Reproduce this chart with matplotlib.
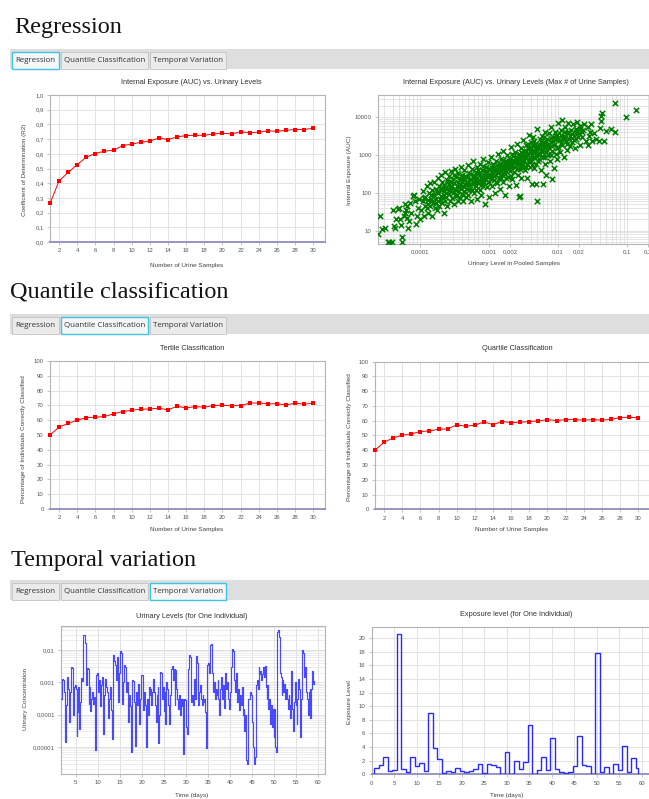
import numpy as np
import matplotlib
matplotlib.use("Agg")
import matplotlib.pyplot as plt
from matplotlib.patches import Rectangle
from matplotlib.ticker import FixedLocator, FuncFormatter, LogLocator, NullFormatter


W, H = 649, 799

SAMPLES = list(range(1, 31))

R2_VALUES = [
    0.262, 0.416, 0.473, 0.527, 0.577, 0.602, 0.618, 0.624, 0.656, 0.665,
    0.679, 0.686, 0.708, 0.697, 0.715, 0.724, 0.726, 0.726, 0.735, 0.740,
    0.735, 0.749, 0.744, 0.747, 0.756, 0.753, 0.760, 0.765, 0.765, 0.774,
]

TERTILE_PCT = [
    50.1, 55.3, 57.8, 60.0, 61.8, 62.0, 62.5, 64.3, 65.8, 66.7,
    67.4, 67.6, 68.1, 67.0, 69.4, 68.3, 69.2, 68.8, 69.9, 70.1,
    69.7, 69.9, 71.5, 71.7, 71.0, 71.2, 70.3, 71.5, 70.8, 71.5,
]

QUARTILE_PCT = [
    40.0, 45.4, 48.3, 50.1, 51.0, 52.6, 53.0, 54.2, 54.4, 57.1,
    56.2, 56.9, 59.1, 57.3, 59.4, 58.7, 58.9, 59.4, 59.8, 60.7,
    60.0, 60.7, 60.7, 60.3, 60.7, 60.3, 60.9, 62.1, 62.3, 61.9,
]

# (urinary level in pooled samples, internal exposure AUC)
SCATTER_POINTS = [
    (2.5e-5, 8), (2.6e-5, 25), (2.8e-5, 11), (3.1e-5, 12), (3.4e-5, 5),
    (3.6e-5, 5), (3.9e-5, 5), (4.2e-5, 13), (4.4e-5, 12), (4.8e-5, 38),
    (5.0e-5, 40), (5.5e-5, 7), (5.5e-5, 5), (4.5e-5, 20), (5.2e-5, 20),
    (4.0e-5, 35), (6.0e-5, 30), (6.5e-5, 22), (6.5e-5, 45), (7.0e-5, 18),
    (7.5e-5, 30), (7.8e-5, 85), (8.2e-5, 90), (8.5e-5, 60), (9.0e-5, 25),
    (9.5e-5, 40), (6.0e-5, 50), (7.2e-5, 55), (8.8e-5, 15), (5.8e-5, 25),
    (6.8e-5, 12), (9.8e-5, 70), (1.0e-4, 20), (5.3e-5, 14), (6.2e-5, 35),
    (1.05e-4, 35), (1.1e-4, 60), (1.1e-4, 110), (1.15e-4, 25), (1.2e-4, 45),
    (1.2e-4, 80), (1.25e-4, 150), (1.3e-4, 30), (1.3e-4, 65), (1.35e-4, 100),
    (1.4e-4, 45), (1.4e-4, 180), (1.45e-4, 70), (1.5e-4, 25), (1.5e-4, 120),
    (1.55e-4, 55), (1.6e-4, 90), (1.6e-4, 200), (1.65e-4, 40), (1.7e-4, 130),
    (1.7e-4, 70), (1.75e-4, 35), (1.8e-4, 100), (1.8e-4, 250), (1.85e-4, 60),
    (1.9e-4, 150), (1.9e-4, 45), (2.0e-4, 85), (2.0e-4, 300), (2.05e-4, 120),
    (2.1e-4, 55), (2.1e-4, 200), (2.15e-4, 75), (2.2e-4, 30), (2.2e-4, 160),
    (2.25e-4, 110), (2.3e-4, 60), (2.3e-4, 350), (2.35e-4, 140), (2.4e-4, 80),
    (2.45e-4, 220), (2.5e-4, 45), (2.5e-4, 130), (2.6e-4, 95), (2.6e-4, 280),
    (2.65e-4, 170), (2.7e-4, 60), (2.75e-4, 120), (2.8e-4, 380), (2.85e-4, 200),
    (2.9e-4, 75), (2.9e-4, 150), (3.0e-4, 100), (3.0e-4, 240), (3.1e-4, 50),
    (3.1e-4, 180), (3.2e-4, 130), (3.2e-4, 420), (3.3e-4, 85), (3.35e-4, 260),
    (3.4e-4, 150), (3.5e-4, 60), (3.5e-4, 200), (3.6e-4, 110), (3.6e-4, 330),
    (3.7e-4, 170), (3.75e-4, 75), (3.8e-4, 240), (3.9e-4, 130), (3.9e-4, 500),
    (4.0e-4, 95), (4.0e-4, 190), (4.1e-4, 300), (4.2e-4, 60), (4.2e-4, 150),
    (4.3e-4, 220), (4.4e-4, 110), (4.4e-4, 400), (4.5e-4, 170), (4.6e-4, 80),
    (4.7e-4, 260), (4.8e-4, 130), (4.9e-4, 550), (5.0e-4, 200), (5.0e-4, 90),
    (5.2e-4, 330), (5.3e-4, 160), (5.4e-4, 60), (5.5e-4, 240), (5.6e-4, 420),
    (5.7e-4, 120), (5.8e-4, 190), (5.9e-4, 700), (6.0e-4, 280), (6.1e-4, 100),
    (6.2e-4, 220), (6.4e-4, 350), (6.5e-4, 150), (6.6e-4, 70), (6.7e-4, 480),
    (6.8e-4, 250), (7.0e-4, 180), (7.1e-4, 330), (7.3e-4, 120), (7.4e-4, 600),
    (7.6e-4, 260), (7.7e-4, 90), (7.9e-4, 400), (8.0e-4, 200), (8.2e-4, 150),
    (8.3e-4, 800), (8.5e-4, 300), (8.7e-4, 50), (8.8e-4, 230), (9.0e-4, 500),
    (9.2e-4, 140), (9.4e-4, 350), (9.6e-4, 270), (9.8e-4, 650), (1.0e-3, 190),
    (1.0e-3, 80), (1.03e-3, 420), (1.05e-3, 260), (1.08e-3, 900), (1.1e-3, 150),
    (1.12e-3, 330), (1.15e-3, 550), (1.18e-3, 220), (1.2e-3, 100), (1.22e-3, 400),
    (1.25e-3, 700), (1.28e-3, 290), (1.3e-3, 180), (1.33e-3, 480), (1.36e-3, 1100),
    (1.4e-3, 350), (1.42e-3, 130), (1.45e-3, 600), (1.48e-3, 250), (1.5e-3, 800),
    (1.55e-3, 420), (1.6e-3, 200), (1.62e-3, 1300), (1.65e-3, 550), (1.7e-3, 320),
    (1.72e-3, 90), (1.75e-3, 700), (1.8e-3, 450), (1.85e-3, 1000), (1.9e-3, 260),
    (1.92e-3, 600), (1.95e-3, 150), (2.0e-3, 800), (2.0e-3, 380), (2.05e-3, 1600),
    (2.1e-3, 500), (2.15e-3, 230), (2.2e-3, 950), (2.25e-3, 650), (2.3e-3, 350),
    (2.35e-3, 1200), (2.4e-3, 480), (2.45e-3, 160), (2.5e-3, 850), (2.55e-3, 2000),
    (2.6e-3, 600), (2.65e-3, 300), (2.7e-3, 1100), (2.75e-3, 80), (2.8e-3, 750),
    (2.85e-3, 420), (2.9e-3, 1500), (2.95e-3, 250), (3.0e-3, 950), (3.05e-3, 550),
    (3.1e-3, 2500), (3.15e-3, 700), (3.2e-3, 1300), (3.3e-3, 400), (3.35e-3, 900),
    (3.4e-3, 1800), (3.5e-3, 600), (3.55e-3, 1100), (3.6e-3, 250), (3.7e-3, 1500),
    (3.75e-3, 800), (3.8e-3, 3500), (3.9e-3, 500), (3.95e-3, 1200), (4.0e-3, 2200),
    (4.1e-3, 700), (4.15e-3, 170), (4.2e-3, 1000), (4.3e-3, 1700), (4.4e-3, 3000),
    (4.45e-3, 450), (4.5e-3, 1300), (4.6e-3, 850), (4.7e-3, 2000), (4.8e-3, 1000),
    (5.0e-3, 4800), (5.1e-3, 700), (5.2e-3, 1500), (5.4e-3, 2600), (5.5e-3, 1100),
    (5.6e-3, 400), (5.8e-3, 1800), (5.9e-3, 3300), (6.0e-3, 900), (6.1e-3, 1400),
    (6.3e-3, 2200), (6.4e-3, 600), (6.5e-3, 4000), (6.6e-3, 1200), (6.7e-3, 300),
    (6.8e-3, 1700), (7.0e-3, 2600), (7.1e-3, 1000), (7.3e-3, 3800), (7.5e-3, 1500),
    (7.7e-3, 700), (7.9e-3, 2200), (8.0e-3, 5500), (8.2e-3, 1300), (8.4e-3, 3000),
    (8.6e-3, 450), (8.8e-3, 1900), (9.0e-3, 4200), (9.2e-3, 1100), (9.4e-3, 2700),
    (9.6e-3, 800), (9.8e-3, 3500), (1.0e-2, 1600), (1.0e-2, 7000), (1.05e-2, 2500),
    (1.08e-2, 1200), (1.1e-2, 4500), (1.13e-2, 8500), (1.15e-2, 1800), (1.2e-2, 3200),
    (1.22e-2, 900), (1.25e-2, 5500), (1.3e-2, 2300), (1.33e-2, 1400), (1.38e-2, 3800),
    (1.4e-2, 7000), (1.45e-2, 2700), (1.5e-2, 1700), (1.55e-2, 4500), (1.6e-2, 2200),
    (1.65e-2, 6500), (1.7e-2, 3300), (1.75e-2, 1500), (1.8e-2, 5000), (1.85e-2, 2700),
    (1.9e-2, 7500), (2.0e-2, 3800), (2.05e-2, 1800), (2.1e-2, 5800), (2.2e-2, 3000),
    (2.3e-2, 4500), (2.4e-2, 6800), (2.5e-2, 2400),
    (2.4e-4, 100), (2.7e-4, 140), (3.3e-4, 120), (3.8e-4, 160), (4.3e-4, 140),
    (4.8e-4, 190), (5.3e-4, 230), (5.7e-4, 170), (6.3e-4, 260), (6.9e-4, 210),
    (7.5e-4, 300), (8.1e-4, 250), (8.6e-4, 380), (9.3e-4, 280), (1.02e-3, 320),
    (1.1e-3, 450), (1.17e-3, 370), (1.27e-3, 420), (1.35e-3, 330), (1.44e-3, 480),
    (1.52e-3, 560), (1.63e-3, 420), (1.72e-3, 620), (1.83e-3, 520), (1.95e-3, 700),
    (2.08e-3, 600), (2.2e-3, 750), (2.35e-3, 650), (2.5e-3, 900), (2.65e-3, 800),
    (2.8e-3, 1000), (3.0e-3, 700), (3.2e-3, 950), (3.45e-3, 1300), (3.65e-3, 1000),
    (3.85e-3, 1500), (4.1e-3, 1200), (4.35e-3, 900), (4.6e-3, 1600), (4.9e-3, 1300),
    (5.3e-3, 1900), (5.7e-3, 1400), (6.2e-3, 1700), (6.6e-3, 2300), (7.2e-3, 1800),
    (7.8e-3, 2800), (8.5e-3, 2300), (9.3e-3, 3200), (1.01e-2, 2700), (1.12e-2, 3500),
    (1.25e-2, 2900), (1.4e-2, 4200), (1.6e-2, 3600), (1.8e-2, 4200), (2.1e-2, 4800),
    (1.5e-4, 60), (1.75e-4, 110), (2.0e-4, 130), (1.3e-4, 50), (1.15e-4, 75),
    (2.2e-4, 90), (2.55e-4, 190), (2.85e-4, 110), (3.15e-4, 300), (3.45e-4, 90),
    (3.65e-4, 140), (3.95e-4, 230), (4.25e-4, 90), (4.55e-4, 280), (4.85e-4, 160),
    (5.15e-4, 120), (5.45e-4, 320), (5.85e-4, 260), (6.15e-4, 180), (6.45e-4, 120),
    (6.85e-4, 400), (7.25e-4, 220), (7.65e-4, 160), (8.05e-4, 520), (8.45e-4, 200),
    (8.9e-4, 330), (9.5e-4, 190), (9.9e-4, 420), (1.06e-3, 230), (1.13e-3, 600),
    (1.19e-3, 280), (1.26e-3, 190), (1.32e-3, 560), (1.39e-3, 250), (1.46e-3, 380),
    (1.54e-3, 300), (1.6e-3, 750), (1.68e-3, 380), (1.77e-3, 250), (1.86e-3, 580),
    (1.97e-3, 420), (2.06e-3, 280), (2.13e-3, 1100), (2.28e-3, 500), (2.42e-3, 800),
    (2.57e-3, 420), (2.72e-3, 600), (2.88e-3, 1200), (3.03e-3, 450), (3.25e-3, 700),
    (3.42e-3, 500), (3.62e-3, 2000), (3.82e-3, 700), (4.05e-3, 1500), (4.25e-3, 550),
    (4.55e-3, 2400), (4.75e-3, 600), (5.05e-3, 1100), (5.35e-3, 800), (5.65e-3, 2300),
    (5.95e-3, 1200), (6.25e-3, 3000), (6.55e-3, 900), (6.95e-3, 1400), (7.4e-3, 2000),
    (7.95e-3, 1000), (8.3e-3, 1700), (8.9e-3, 2600), (9.5e-3, 1500), (1.03e-2, 3900),
    (1.1e-2, 2100), (1.18e-2, 2600), (1.28e-2, 4000), (1.36e-2, 2000), (1.48e-2, 3300),
    (1.58e-2, 2800), (1.72e-2, 2500), (1.95e-2, 3000), (2.25e-2, 4000), (1.25e-4, 40),
    (1.45e-4, 90), (1.7e-4, 55), (1.95e-4, 70), (2.15e-4, 140),
    (2.7e-2, 5500), (2.8e-2, 3200), (2.9e-2, 4200), (3.1e-2, 2300), (3.3e-2, 3800),
    (3.6e-2, 2600), (3.9e-2, 2350), (4.2e-2, 8000), (4.2e-2, 11000), (4.3e-2, 13000),
    (4.1e-2, 5200), (4.7e-2, 2350), (5.0e-2, 4300), (5.9e-2, 4900), (6.6e-2, 4100),
    (6.6e-2, 24000), (9.5e-2, 10300), (1.34e-1, 15600), (2.7e-2, 1800), (3.0e-2, 6500),
    (4.9e-3, 62), (4.8e-3, 170), (6.0e-3, 170), (2.8e-3, 82), (8.1e-3, 240),
]

# (time in days, urinary concentration) for one individual
URINE_SERIES = [
    (1.7, 3.0e-4), (1.8, 9e-4), (1.95, 1.3e-3), (2.15, 1.2e-3), (2.35, 5e-4),
    (2.5, 2.5e-5), (2.65, 1.4e-5), (2.8, 2e-4), (2.95, 1.5e-3), (3.15, 8e-4),
    (3.35, 6e-4), (3.5, 6e-5), (3.65, 5e-4), (3.85, 1.0e-3), (4.0, 2.9e-3),
    (4.25, 2.7e-3), (4.45, 1.0e-4), (4.6, 7e-4), (4.85, 8e-4), (5.05, 6e-4),
    (5.25, 2.2e-5), (5.4, 1.2e-4), (5.6, 7e-4), (5.8, 3.5e-5), (6.0, 2.5e-4),
    (6.25, 1.4e-3), (6.5, 1.1e-3), (6.7, 3.0e-2), (6.95, 2.8e-2), (7.15, 1.6e-2),
    (7.35, 8e-4), (7.55, 2.8e-3), (7.8, 2.6e-3), (7.95, 2.2e-4), (8.1, 7e-4),
    (8.3, 1.3e-4), (8.5, 3e-4), (8.7, 5e-4), (8.9, 2.2e-4), (9.1, 3.5e-4),
    (9.3, 1e-4), (9.45, 8e-6), (9.65, 1.7e-3), (9.9, 2.0e-3), (10.1, 5e-4),
    (10.3, 1.2e-3), (10.5, 1.8e-4), (10.7, 8e-4), (10.9, 1.5e-3), (11.1, 4e-4),
    (11.3, 2.5e-5), (11.45, 4e-4), (11.65, 1.3e-3), (11.9, 7e-4), (12.1, 5e-4),
    (12.3, 8e-5), (12.5, 3e-4), (12.7, 7e-4), (12.9, 3.5e-4), (13.1, 1.4e-4),
    (13.3, 1.8e-5), (13.5, 7e-3), (13.75, 4.5e-3), (13.95, 3.5e-3), (14.15, 1.2e-3),
    (14.35, 6e-3), (14.55, 2.5e-4), (14.75, 2e-3), (14.95, 9.5e-3), (15.25, 8e-3),
    (15.45, 2.2e-4), (15.65, 1e-3), (15.85, 3.5e-3), (16.15, 3e-3), (16.35, 5e-4),
    (16.55, 1e-3), (16.75, 2e-4), (16.95, 6e-5), (17.15, 4e-4), (17.35, 1.8e-4),
    (17.55, 7e-6), (17.75, 1.2e-3), (18.05, 1.1e-3), (18.25, 2.5e-4), (18.45, 1.1e-5),
    (18.65, 5e-4), (18.85, 2e-4), (19.05, 9e-4), (19.25, 2.5e-4), (19.45, 5e-5),
    (19.65, 3e-4), (19.85, 1.7e-3), (20.15, 1.6e-3), (20.35, 1.4e-4), (20.55, 5e-4),
    (20.75, 2e-4), (20.95, 1e-5), (21.15, 3e-4), (21.35, 1e-4), (21.55, 7e-4),
    (21.75, 4e-4), (21.95, 6e-4), (22.15, 2e-4), (22.35, 5e-4), (22.6, 1.3e-3),
    (22.85, 5e-4), (23.05, 2e-4), (23.25, 6e-5), (23.45, 4e-4), (23.6, 7e-4),
    (23.75, 1.3e-5), (23.95, 1e-4), (24.1, 2.1e-3), (24.35, 1.9e-3), (24.55, 3e-4),
    (24.75, 7e-4), (24.95, 1.3e-4), (25.15, 5e-4), (25.35, 5e-5), (25.55, 1e-3),
    (25.75, 6e-4), (25.95, 2e-4), (26.15, 5e-5), (26.35, 4e-4), (26.55, 2.5e-3),
    (26.8, 3.2e-3), (27.0, 1.2e-3), (27.2, 2.6e-3), (27.4, 2e-4), (27.6, 2.4e-3),
    (27.8, 6e-4), (28.0, 3e-4), (28.2, 1.5e-4), (28.4, 4e-4), (28.6, 1e-4),
    (28.8, 3e-4), (29.0, 1.8e-4), (29.2, 3e-4), (29.4, 6e-6), (29.6, 3e-4),
    (29.8, 2.8e-4), (30.0, 4e-5), (30.2, 2.5e-5), (30.4, 2.5e-3), (30.6, 7e-3),
    (30.9, 6e-3), (31.1, 2.5e-4), (31.3, 4e-4), (31.5, 2e-4), (31.7, 6e-4),
    (31.9, 1.3e-3), (32.1, 3e-4), (32.3, 6.5e-3), (32.55, 4e-3), (32.75, 2e-4),
    (32.95, 5e-4), (33.15, 8e-4), (33.35, 3e-4), (33.55, 2e-4), (33.75, 4e-4),
    (33.95, 2.5e-4), (34.15, 3e-4), (34.35, 1.2e-4), (34.55, 9e-6), (34.75, 3.5e-3),
    (35.0, 4e-3), (35.2, 2e-3), (35.45, 1.4e-2), (35.75, 1.5e-2), (35.95, 2e-3),
    (36.15, 5e-4), (36.35, 1e-3), (36.55, 3e-4), (36.75, 6e-4), (36.95, 4e-4),
    (37.15, 1.2e-3), (37.35, 3e-4), (37.55, 1e-4), (37.75, 6e-4), (37.95, 1.5e-3),
    (38.15, 3e-4), (38.35, 8e-4), (38.55, 1.6e-4), (38.75, 4e-4), (38.95, 2e-3),
    (39.15, 6e-4), (39.35, 1e-3), (39.55, 3e-4), (39.75, 1.5e-4), (39.95, 5e-4),
    (40.15, 3e-3), (40.35, 1.1e-2), (40.6, 9e-3), (40.85, 1.2e-3), (41.05, 5e-4),
    (41.25, 2e-3), (41.45, 1e-3), (41.65, 2.5e-4), (41.85, 6e-4), (42.05, 1.4e-4),
    (42.25, 4e-4), (42.45, 2e-4), (42.65, 7e-4), (42.85, 1e-4), (43.05, 1.5e-4),
    (43.25, 3e-5), (43.45, 1e-4), (43.6, 4e-6), (43.8, 3e-6), (44.0, 3e-4),
    (44.2, 3e-4), (44.45, 5e-4), (44.65, 4e-4), (44.85, 1.5e-4), (45.05, 6e-5),
    (45.25, 1e-5), (45.45, 3e-6), (45.65, 5e-6), (45.85, 8e-4), (46.05, 1.2e-3),
    (46.25, 6e-4), (46.45, 3e-3), (46.65, 1.8e-3), (46.85, 2.2e-3), (47.05, 1.2e-3),
    (47.25, 1.8e-3), (47.45, 3e-3), (47.65, 1.5e-3), (47.85, 3.2e-3), (48.05, 7e-4),
    (48.25, 3e-4), (48.45, 8e-4), (48.65, 1.5e-4), (48.85, 3e-4), (49.05, 5e-5),
    (49.25, 2e-4), (49.45, 4e-5), (49.65, 1.5e-4), (49.85, 2e-5), (50.05, 1.5e-4),
    (50.25, 1e-5), (50.45, 7e-6), (50.65, 3.5e-2), (50.85, 4e-2), (51.05, 2.5e-2),
    (51.25, 2e-3), (51.45, 1.5e-3), (51.65, 4e-4), (51.85, 1.2e-3), (52.05, 5e-4),
    (52.25, 9e-4), (52.45, 3e-4), (52.65, 6e-4), (52.85, 3e-4), (53.05, 1.5e-4),
    (53.25, 4e-4), (53.45, 2e-4), (53.65, 8e-5), (53.85, 2.2e-3), (54.05, 1.5e-4),
    (54.25, 3e-5), (54.45, 2.5e-4), (54.65, 1e-3), (54.85, 2e-4), (55.05, 5e-5),
    (55.25, 3e-4), (55.45, 1.3e-3), (55.65, 6e-4), (55.85, 2e-5), (56.05, 3e-4),
    (56.3, 1e-2), (56.55, 8e-3), (56.8, 1.5e-3), (57.0, 3e-3), (57.2, 5e-4),
    (57.4, 3e-4), (57.6, 1e-4), (57.8, 5e-4), (58.0, 6e-4), (58.2, 8e-5),
    (58.4, 6e-4), (58.6, 2.2e-3), (58.8, 9e-4), (59.0, 1.1e-3),
]

# daily exposure level, one value per day starting at day 0.6
EXPOSURE_FIRST_DAY = 0.6
EXPOSURE_LAST_DAY = 59.1
EXPOSURE_LEVEL = [
    0.9, 1.3, 2.5, 0.55, 0.7, 20.7, 0.8, 0.35, 2.55, 1.15,
    1.6, 0.45, 8.95, 3.9, 2.3, 0.2, 0.45, 0.35, 0.9, 0.5,
    0.4, 0.55, 0.8, 1.45, 0.2, 1.5, 1.3, 1.05, 0.1, 3.35,
    0.1, 2.0, 0.8, 1.85, 7.2, 0.1, 0.7, 2.55, 0.7, 5.4,
    0.8, 0.35, 0.15, 0.35, 1.25, 5.65, 1.35, 1.2, 0.0, 17.9,
    0.3, 1.05, 0.1, 1.5, 0.6, 4.1, 0.35, 2.35, 0.95,
]

TAB_NAMES = ["Regression", "Quantile Classification", "Temporal Variation"]

GRID = "#e2e2e2"
FRAME = "#b4b4b4"
ZERO_LINE = "#8c8cbc"
TICK_TEXT = "#555555"
LABEL_TEXT = "#444444"


def px_rect(x0, y0, x1, y1):
    return [x0 / W, 1 - y1 / H, (x1 - x0) / W, (y1 - y0) / H]


def fig_text(fig, x, y, text, **kwargs):
    fig.text(x / W, 1 - y / H, text, **kwargs)


def comma(fmt):
    return FuncFormatter(lambda v, pos: fmt.format(v).replace(".", ","))


def draw_heading(fig, x, baseline, text):
    fig_text(fig, x, baseline, text, family="Liberation Serif",
             fontsize=17.5, color="#141414", va="baseline", ha="left")


def draw_tabs(fig, top, selected):
    band = Rectangle((10 / W, 1 - (top + 20) / H), (W - 10) / W, 20 / H,
                     transform=fig.transFigure, facecolor="#dedede",
                     edgecolor="none")
    fig.add_artist(band)
    spans = [(12, 59), (61, 148), (150, 226)]
    for i, (x0, x1) in enumerate(spans):
        is_sel = i == selected
        tab = Rectangle((x0 / W, 1 - (top + 20) / H), (x1 - x0) / W, 17 / H,
                        transform=fig.transFigure,
                        facecolor="#f4f6f7" if is_sel else "#ebebeb",
                        edgecolor="#40c4e4" if is_sel else "#c2c2c2",
                        linewidth=1.0 if is_sel else 0.6)
        fig.add_artist(tab)
        fig_text(fig, (x0 + x1) / 2, top + 11.5, TAB_NAMES[i],
                 family="Open Sans", fontsize=5.7, color="#333333",
                 ha="center", va="center")


def style_axes(ax, zero_line=True):
    ax.set_facecolor("white")
    for side in ["top", "right", "left", "bottom"]:
        ax.spines[side].set_color(FRAME)
        ax.spines[side].set_linewidth(0.8)
    if zero_line:
        ax.spines["bottom"].set_color(ZERO_LINE)
        ax.spines["bottom"].set_linewidth(1.3)
    ax.tick_params(which="both", labelsize=4.3, labelcolor=TICK_TEXT,
                   color="#aaaaaa", length=2, width=0.5, pad=2.5)
    ax.tick_params(which="minor", length=0)
    ax.grid(True, which="major", color=GRID, linewidth=0.7)
    ax.set_axisbelow(True)


def sample_plot(ax, values, ymax, ystep, fmt):
    style_axes(ax)
    ax.plot(SAMPLES, values, color="#ff0000", linewidth=0.7,
            marker="s", markersize=2.6, markeredgewidth=0,
            clip_on=False, zorder=3)
    ax.set_xlim(1, 31.3)
    ax.set_ylim(0, ymax)
    ax.set_xticks(range(2, 31, 2))
    ax.set_yticks(np.arange(0, ymax + ystep / 2, ystep))
    ax.yaxis.set_major_formatter(fmt)


def main():
    plt.rcParams["font.family"] = ["Liberation Sans", "DejaVu Sans"]
    fig = plt.figure(figsize=(W / 100, H / 100), dpi=100)
    fig.patch.set_facecolor("white")

    title_kw = dict(fontsize=5.3, color="#333333", ha="center", va="center")
    label_kw = dict(fontsize=4.6, color=LABEL_TEXT, ha="center", va="center")

    # ---------------- Regression ----------------
    draw_heading(fig, 14, 33, "Regression")
    draw_tabs(fig, 49, 0)

    ax = fig.add_axes(px_rect(50, 95, 325, 242))
    sample_plot(ax, R2_VALUES, 1.0, 0.1, comma("{:.1f}"))
    fig_text(fig, 191, 83, "Internal Exposure (AUC) vs. Urinary Levels", **title_kw)
    fig_text(fig, 187, 265, "Number of Urine Samples", **label_kw)
    fig_text(fig, 25, 170, "Coefficient of Determination (R2)", rotation=90, **label_kw)

    ax = fig.add_axes(px_rect(378, 95, 650, 243.5))
    style_axes(ax, zero_line=False)
    xs = [p[0] for p in SCATTER_POINTS]
    ys = [p[1] for p in SCATTER_POINTS]
    ax.scatter(xs, ys, marker="x", s=15, linewidths=1.1, color="#008000", zorder=3)
    ax.set_xscale("log")
    ax.set_yscale("log")
    ax.set_xlim(2.46e-5, 0.215)
    ax.set_ylim(4.6, 39000)
    xt = [1e-4, 1e-3, 2e-3, 1e-2, 2e-2, 1e-1, 2e-1]
    ax.xaxis.set_major_locator(FixedLocator(xt))
    ax.set_xticklabels(["0,0001", "0,001", "0,002", "0,01", "0,02", "0,1", "0,2"])
    ax.xaxis.set_minor_locator(LogLocator(base=10, subs=np.arange(1, 10), numticks=20))
    ax.xaxis.set_minor_formatter(NullFormatter())
    ax.yaxis.set_major_locator(FixedLocator([10, 100, 1000, 10000]))
    ax.set_yticklabels(["10", "100", "1000", "10000"])
    ax.yaxis.set_minor_locator(LogLocator(base=10, subs=np.arange(1, 10), numticks=20))
    ax.yaxis.set_minor_formatter(NullFormatter())
    ax.grid(True, which="both", color="#dcdcdc", linewidth=0.55)
    fig_text(fig, 516, 83,
             "Internal Exposure (AUC) vs. Urinary Levels (Max # of Urine Samples)",
             **title_kw)
    fig_text(fig, 514, 264, "Urinary Level in Pooled Samples", **label_kw)
    fig_text(fig, 349, 170, "Internal Exposure (AUC)", rotation=90, **label_kw)

    # ---------------- Quantile classification ----------------
    draw_heading(fig, 10, 298, "Quantile classification")
    draw_tabs(fig, 314, 1)

    ax = fig.add_axes(px_rect(50, 361, 325, 509))
    sample_plot(ax, TERTILE_PCT, 100, 10, comma("{:.0f}"))
    fig_text(fig, 192, 349, "Tertile Classification", **title_kw)
    fig_text(fig, 187, 529, "Number of Urine Samples", **label_kw)
    fig_text(fig, 24, 439, "Percentage of Individuals Correctly Classified",
             rotation=90, **label_kw)

    ax = fig.add_axes(px_rect(375, 361.5, 650, 509.3))
    sample_plot(ax, QUARTILE_PCT, 100, 10, comma("{:.0f}"))
    fig_text(fig, 517, 349, "Quartile Classification", **title_kw)
    fig_text(fig, 512, 529, "Number of Urine Samples", **label_kw)
    fig_text(fig, 349, 437, "Percentage of Individuals Correctly Classified",
             rotation=90, **label_kw)

    # ---------------- Temporal variation ----------------
    draw_heading(fig, 11, 566, "Temporal variation")
    draw_tabs(fig, 580, 2)

    ax = fig.add_axes(px_rect(61, 626, 325, 774))
    style_axes(ax, zero_line=False)
    ut = [p[0] for p in URINE_SERIES]
    uc = [p[1] for p in URINE_SERIES]
    ax.plot(ut, uc, drawstyle="steps-post", color="#2a2aff", linewidth=0.85,
            alpha=0.85, zorder=3)
    ax.set_yscale("log")
    ax.set_xlim(1.67, 61.5)
    ax.set_ylim(1.45e-6, 0.055)
    ax.set_xticks(range(5, 61, 5))
    ax.yaxis.set_major_locator(FixedLocator([1e-5, 1e-4, 1e-3, 1e-2]))
    ax.set_yticklabels(["0,00001", "0,0001", "0,001", "0,01"])
    ax.yaxis.set_minor_locator(LogLocator(base=10, subs=np.arange(1, 10), numticks=20))
    ax.yaxis.set_minor_formatter(NullFormatter())
    ax.grid(True, which="minor", axis="y", color="#e4e4e4", linewidth=0.5)
    fig_text(fig, 192, 616, "Urinary Levels (for One Individual)", **title_kw)
    fig_text(fig, 192, 795, "Time (days)", **label_kw)
    fig_text(fig, 25, 699, "Urinary Concentration", rotation=90, **label_kw)

    ax = fig.add_axes(px_rect(371.7, 626.7, 650, 774.3))
    style_axes(ax)
    n = len(EXPOSURE_LEVEL)
    edges = EXPOSURE_FIRST_DAY + np.arange(n + 1)
    edges[-1] = EXPOSURE_LAST_DAY
    ax.stairs(EXPOSURE_LEVEL, edges, baseline=0, color="#2a2aff",
              linewidth=1.0, zorder=3)
    ax.set_xlim(0, 61.8)
    ax.set_ylim(0, 21.7)
    ax.set_xticks(range(0, 61, 5))
    ax.set_yticks(range(0, 21, 2))
    fig_text(fig, 516, 615, "Exposure level (for One Individual)", **title_kw)
    fig_text(fig, 507, 795, "Time (days)", **label_kw)
    fig_text(fig, 349, 702, "Exposure Level", rotation=90, **label_kw)

    fig.savefig("out.png", dpi=100, facecolor="white")
    plt.close(fig)


if __name__ == "__main__":
    main()
